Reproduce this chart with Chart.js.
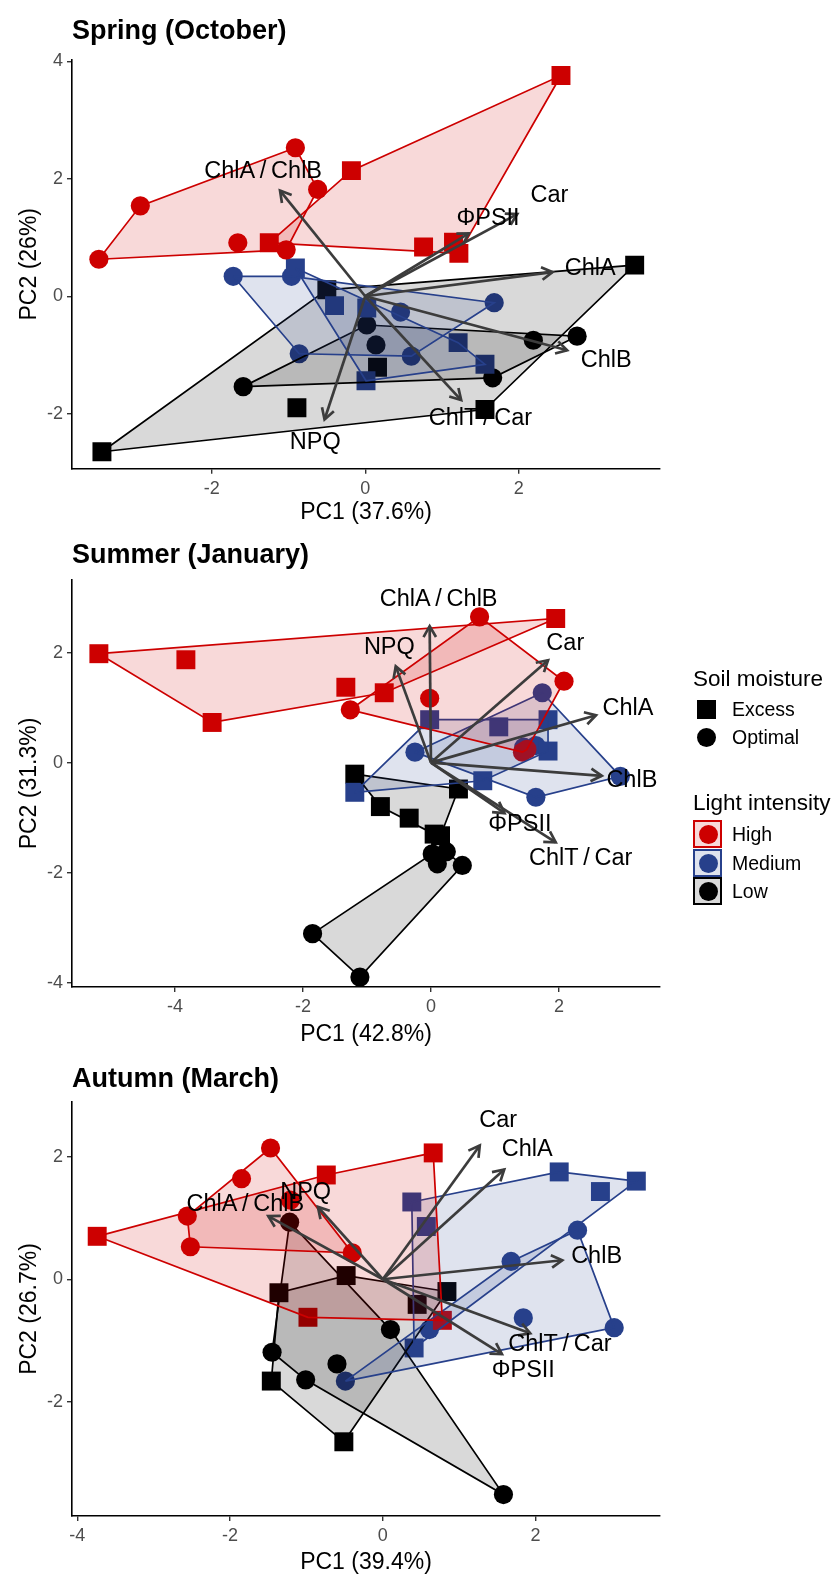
<!DOCTYPE html>
<html>
<head>
<meta charset="utf-8">
<script src="https://cdn.jsdelivr.net/npm/chart.js@4.4.1/dist/chart.umd.min.js"></script>
<style>
html,body{margin:0;padding:0;background:#fff;}
#page{position:relative;width:831px;height:1578px;overflow:hidden;background:#fff;font-family:"Liberation Sans",Arial,Helvetica,sans-serif;}
.panel{position:absolute;left:0;width:831px;}
.panel canvas{display:block;}
.lg{position:absolute;color:#000;white-space:nowrap;}
.lgt{font-size:22.5px;line-height:26px;height:26px;}
.lgi{font-size:19.5px;line-height:22px;height:22px;}
.shape{position:absolute;background:#000;}
.key{position:absolute;box-sizing:border-box;width:29px;height:28px;border:2px solid;}
.key span{position:absolute;left:3.5px;top:3px;width:19px;height:19px;border-radius:50%;}
</style>
</head>
<body>
<div id="page">
  <div class="panel" style="top:0;height:540px"><canvas id="c1" width="831" height="540"></canvas></div>
  <div class="panel" style="top:522px;height:540px"><canvas id="c2" width="831" height="540"></canvas></div>
  <div class="panel" style="top:1046px;height:532px"><canvas id="c3" width="831" height="532"></canvas></div>
  <div id="legend"></div>
</div>
<script>
const FONT = '"Liberation Sans", Arial, Helvetica, sans-serif';

// ---------- categories ----------
const lightLevels = ['High', 'Medium', 'Low'];
const moistureLevels = ['Excess', 'Optimal'];
const lightColors = ['#CD0000', '#27408B', '#000000'];
const varNames = ['ChlA\u2009/\u2009ChlB', 'ΦPSII', 'Car', 'ChlA', 'ChlB', 'ChlT\u2009/\u2009Car', 'NPQ'];

// ---------- Spring (October) ----------
const springHighExcess    = [[-1.25,0.91],[-0.18,2.14],[2.55,3.76],[0.76,0.84],[1.15,0.92],[1.22,0.73]];
const springHighOptimal   = [[-3.47,0.63],[-2.93,1.54],[-0.91,2.53],[-0.62,1.82],[-1.66,0.91],[-1.03,0.79]];
const springMediumExcess  = [[-0.91,0.48],[-0.40,-0.16],[0.02,-0.20],[1.21,-0.79],[1.56,-1.16],[0.01,-1.44]];
const springMediumOptimal = [[-1.72,0.34],[-0.96,0.34],[1.68,-0.11],[0.46,-0.27],[-0.86,-0.98],[0.60,-1.02]];
const springLowExcess     = [[-3.43,-2.65],[-0.50,0.11],[3.51,0.53],[1.56,-1.93],[-0.89,-1.90],[0.16,-1.21]];
const springLowOptimal    = [[-1.59,-1.54],[0.02,-0.49],[0.14,-0.83],[2.19,-0.75],[2.76,-0.68],[1.66,-1.39]];
const springArrowX = [-1.11, 1.35, 1.98, 2.44, 2.63, 1.25, -0.53];
const springArrowY = [1.80, 1.07, 1.40, 0.41, -0.92, -1.77, -2.10];
const springLabelX = [-1.33, 1.60, 2.40, 2.93, 3.14, 1.50, -0.65];
const springLabelY = [2.12, 1.32, 1.72, 0.47, -1.09, -2.08, -2.50];
const springXTicks = [-2, 0, 2];
const springYTicks = [-2, 0, 2, 4];

// ---------- Summer (January) ----------
const summerHighExcess    = [[-5.19,1.98],[-3.83,1.87],[-3.42,0.73],[-1.33,1.37],[-0.73,1.27],[1.95,2.62]];
const summerHighOptimal   = [[0.76,2.65],[2.08,1.48],[-1.26,0.96],[-0.02,1.17],[1.43,0.19],[1.50,0.24]];
const summerMediumExcess  = [[-0.02,0.78],[1.06,0.65],[1.83,0.78],[1.83,0.21],[0.81,-0.33],[-1.19,-0.54]];
const summerMediumOptimal = [[1.74,1.27],[-0.25,0.19],[1.45,0.28],[1.64,0.31],[2.96,-0.25],[1.64,-0.63]];
const summerLowExcess     = [[-1.19,-0.21],[-0.79,-0.80],[-0.34,-1.01],[0.43,-0.48],[0.05,-1.30],[0.15,-1.33]];
const summerLowOptimal    = [[0.02,-1.66],[0.24,-1.62],[0.10,-1.84],[0.49,-1.87],[-1.85,-3.11],[-1.11,-3.90]];
const summerArrowX = [-0.02, 1.15, 1.83, 2.58, 2.67, 1.95, -0.55];
const summerArrowY = [2.48, -0.92, 1.86, 0.86, -0.24, -1.45, 1.75];
const summerLabelX = [0.12, 1.39, 2.10, 3.08, 3.14, 2.34, -0.65];
const summerLabelY = [2.97, -1.12, 2.17, 0.99, -0.33, -1.75, 2.10];
const summerXTicks = [-4, -2, 0, 2];
const summerYTicks = [-4, -2, 0, 2];

// ---------- Autumn (March) ----------
const autumnHighExcess    = [[-3.74,0.70],[-0.74,1.70],[0.66,2.06],[0.78,-0.67],[-0.98,-0.62]];
const autumnHighOptimal   = [[-1.47,2.14],[-1.85,1.64],[-2.56,1.03],[-2.52,0.53],[-0.40,0.43],[-1.21,1.29]];
const autumnMediumExcess  = [[0.38,1.26],[0.57,0.86],[2.31,1.75],[2.85,1.43],[3.32,1.60],[0.41,-1.12]];
const autumnMediumOptimal = [[2.55,0.80],[1.68,0.29],[1.84,-0.63],[3.03,-0.79],[0.61,-0.82],[-0.49,-1.66]];
const autumnLowExcess     = [[-1.36,-0.22],[-0.48,0.06],[0.84,-0.20],[0.45,-0.41],[-1.46,-1.66],[-0.51,-2.65]];
const autumnLowOptimal    = [[-1.22,0.93],[0.10,-0.82],[-1.45,-1.19],[-0.60,-1.38],[-1.01,-1.64],[1.58,-3.51]];
const autumnArrowX = [-1.50, 1.56, 1.27, 1.59, 2.35, 1.93, -0.85];
const autumnArrowY = [1.03, -1.22, 2.18, 1.79, 0.31, -0.88, 1.18];
const autumnLabelX = [-1.80, 1.84, 1.51, 1.89, 2.80, 2.32, -1.01];
const autumnLabelY = [1.22, -1.49, 2.58, 2.11, 0.37, -1.07, 1.41];
const autumnXTicks = [-4, -2, 0, 2];
const autumnYTicks = [-2, 0, 2];

// ---------- helpers ----------
function convexHull(points) {
  const p = points.map(q => q.slice()).sort((a, b) => a[0] - b[0] || a[1] - b[1]);
  const cross = (o, a, b) => (a[0]-o[0])*(b[1]-o[1]) - (a[1]-o[1])*(b[0]-o[0]);
  const lower = [];
  for (const q of p) { while (lower.length >= 2 && cross(lower[lower.length-2], lower[lower.length-1], q) <= 0) lower.pop(); lower.push(q); }
  const upper = [];
  for (let i = p.length - 1; i >= 0; i--) { const q = p[i]; while (upper.length >= 2 && cross(upper[upper.length-2], upper[upper.length-1], q) <= 0) upper.pop(); upper.push(q); }
  upper.pop(); lower.pop();
  return lower.concat(upper);
}
function rgba(hex, a) {
  const n = parseInt(hex.slice(1), 16);
  return `rgba(${(n>>16)&255},${(n>>8)&255},${n&255},${a})`;
}

function arrowPlugin(ax, ay, lx, ly) {
  return {
    id: 'pcaArrows',
    afterDatasetsDraw(chart) {
      const { ctx, scales: { x, y } } = chart;
      const ox = x.getPixelForValue(0), oy = y.getPixelForValue(0);
      ctx.save();
      ctx.strokeStyle = '#3C3C3C';
      ctx.lineWidth = 2.7;
      ctx.lineCap = 'butt';
      ctx.lineJoin = 'miter';
      ax.forEach((v, i) => {
        const tx = x.getPixelForValue(v), ty = y.getPixelForValue(ay[i]);
        const ang = Math.atan2(ty - oy, tx - ox);
        ctx.beginPath(); ctx.moveTo(ox, oy); ctx.lineTo(tx, ty); ctx.stroke();
        const L = 12.5, a = Math.PI / 6;
        ctx.beginPath();
        ctx.moveTo(tx - L * Math.cos(ang - a), ty - L * Math.sin(ang - a));
        ctx.lineTo(tx, ty);
        ctx.lineTo(tx - L * Math.cos(ang + a), ty - L * Math.sin(ang + a));
        ctx.stroke();
      });
      ctx.fillStyle = '#000';
      ctx.font = '23.5px ' + FONT;
      ctx.textAlign = 'center';
      ctx.textBaseline = 'middle';
      lx.forEach((v, i) => ctx.fillText(varNames[i], x.getPixelForValue(v), y.getPixelForValue(ly[i])));
      ctx.restore();
    }
  };
}

function makePanel(p) {
  const groups = [];
  lightLevels.forEach((light, li) => {
    moistureLevels.forEach((moist, mi) => {
      groups.push({ light: li, moist: moist, pts: p.groups[li][mi] });
    });
  });
  const datasets = [];
  groups.forEach(g => {
    const excess = g.moist === 'Excess';
    datasets.push({
      type: 'scatter',
      label: lightLevels[g.light] + ' ' + g.moist,
      data: g.pts.map(q => ({ x: q[0], y: q[1] })),
      pointStyle: excess ? 'rect' : 'circle',
      pointRadius: excess ? 13.4 : 9.6,
      pointHoverRadius: excess ? 13.4 : 9.6,
      backgroundColor: lightColors[g.light],
      borderWidth: 0,
      order: 3
    });
  });
  groups.forEach(g => {
    const h = convexHull(g.pts);
    h.push(h[0]);
    datasets.push({
      type: 'line',
      label: 'hull',
      data: h.map(q => ({ x: q[0], y: q[1] })),
      borderColor: lightColors[g.light],
      borderWidth: 1.7,
      backgroundColor: rgba(lightColors[g.light], 0.15),
      fill: 'shape',
      pointRadius: 0,
      pointHoverRadius: 0,
      tension: 0,
      order: 2
    });
  });

  const tickFont = { size: 18, family: FONT };
  const axisTitleFont = { size: 23, family: FONT };
  return new Chart(document.getElementById(p.id), {
    type: 'scatter',
    data: { datasets },
    plugins: [arrowPlugin(p.ax, p.ay, p.lx, p.ly)],
    options: {
      responsive: false,
      animation: false,
      events: [],
      layout: { padding: { left: 0, right: 171, top: 0, bottom: 0 } },
      plugins: {
        legend: { display: false },
        tooltip: { enabled: false },
        title: {
          display: true, text: p.title, align: 'start', fullSize: false,
          color: '#000', font: { size: 27, weight: 'bold', family: FONT, lineHeight: 1.2 },
          padding: { top: p.tTop, bottom: p.tBottom }
        }
      },
      scales: {
        x: {
          type: 'linear', position: 'bottom', min: p.xMin, max: p.xMax,
          afterBuildTicks: s => { s.ticks = p.xTicks.map(v => ({ value: v })); },
          afterFit: s => { s.height = p.xHeight; },
          ticks: { color: '#4D4D4D', font: tickFont, padding: 4, maxRotation: 0, autoSkip: false },
          grid: { display: true, drawOnChartArea: false, drawTicks: true, tickLength: 5, color: '#333333', lineWidth: 1.4 },
          border: { display: true, color: '#000', width: 1.6 },
          title: { display: true, text: p.xTitle, color: '#000', font: axisTitleFont, padding: { top: 0, bottom: p.xTitlePad } }
        },
        y: {
          type: 'linear', position: 'left', min: p.yMin, max: p.yMax,
          afterBuildTicks: s => { s.ticks = p.yTicks.map(v => ({ value: v })); },
          afterFit: s => { s.width = 72; },
          ticks: { color: '#4D4D4D', font: tickFont, padding: 4, autoSkip: false },
          grid: { display: true, drawOnChartArea: false, drawTicks: true, tickLength: 5, color: '#333333', lineWidth: 1.4 },
          border: { display: true, color: '#000', width: 1.6 },
          title: { display: true, text: p.yTitle, color: '#000', font: axisTitleFont, padding: { top: 16.2, bottom: 0 } }
        }
      }
    }
  });
}

makePanel({
  id: 'c1', title: 'Spring (October)', xTitle: 'PC1 (37.6%)', yTitle: 'PC2 (26%)',
  xMin: -3.82, xMax: 3.84, yMin: -2.94, yMax: 4.03,
  xTicks: springXTicks, yTicks: springYTicks,
  groups: [[springHighExcess, springHighOptimal], [springMediumExcess, springMediumOptimal], [springLowExcess, springLowOptimal]],
  ax: springArrowX, ay: springArrowY, lx: springLabelX, ly: springLabelY,
  tTop: 15.1, tBottom: 12.2, xHeight: 71.2, xTitlePad: 13.2
});
makePanel({
  id: 'c2', title: 'Summer (January)', xTitle: 'PC1 (42.8%)', yTitle: 'PC2 (31.3%)',
  xMin: -5.61, xMax: 3.58, yMin: -4.08, yMax: 3.32,
  xTicks: summerXTicks, yTicks: summerYTicks,
  groups: [[summerHighExcess, summerHighOptimal], [summerMediumExcess, summerMediumOptimal], [summerLowExcess, summerLowOptimal]],
  ax: summerArrowX, ay: summerArrowY, lx: summerLabelX, ly: summerLabelY,
  tTop: 17.8, tBottom: 7.8, xHeight: 75, xTitlePad: 13.2
});
makePanel({
  id: 'c3', title: 'Autumn (March)', xTitle: 'PC1 (39.4%)', yTitle: 'PC2 (26.7%)',
  xMin: -4.07, xMax: 3.63, yMin: -3.86, yMax: 2.89,
  xTicks: autumnXTicks, yTicks: autumnYTicks,
  groups: [[autumnHighExcess, autumnHighOptimal], [autumnMediumExcess, autumnMediumOptimal], [autumnLowExcess, autumnLowOptimal]],
  ax: autumnArrowX, ay: autumnArrowY, lx: autumnLabelX, ly: autumnLabelY,
  tTop: 17.8, tBottom: 5.8, xHeight: 62, xTitlePad: 1.2
});

// ---------- legend ----------
(function buildLegend() {
  const L = document.getElementById('legend');
  let html = '';
  html += `<div class="lg lgt" style="left:693px;top:666px">Soil moisture</div>`;
  html += `<div class="shape" style="left:697px;top:700px;width:19px;height:19px"></div>`;
  html += `<div class="lg lgi" style="left:732px;top:698px">${moistureLevels[0]}</div>`;
  html += `<div class="shape" style="left:697px;top:728px;width:19px;height:19px;border-radius:50%"></div>`;
  html += `<div class="lg lgi" style="left:732px;top:726px">${moistureLevels[1]}</div>`;
  html += `<div class="lg lgt" style="left:693px;top:790px">Light intensity</div>`;
  lightLevels.forEach((lv, i) => {
    const top = 820 + i * 28.5;
    html += `<div class="key" style="left:693px;top:${top}px;border-color:${lightColors[i]};background:${rgba(lightColors[i], 0.15)}"><span style="background:${lightColors[i]}"></span></div>`;
    html += `<div class="lg lgi" style="left:732px;top:${top + 3}px">${lv}</div>`;
  });
  L.innerHTML = html;
})();
</script>
</body>
</html>
